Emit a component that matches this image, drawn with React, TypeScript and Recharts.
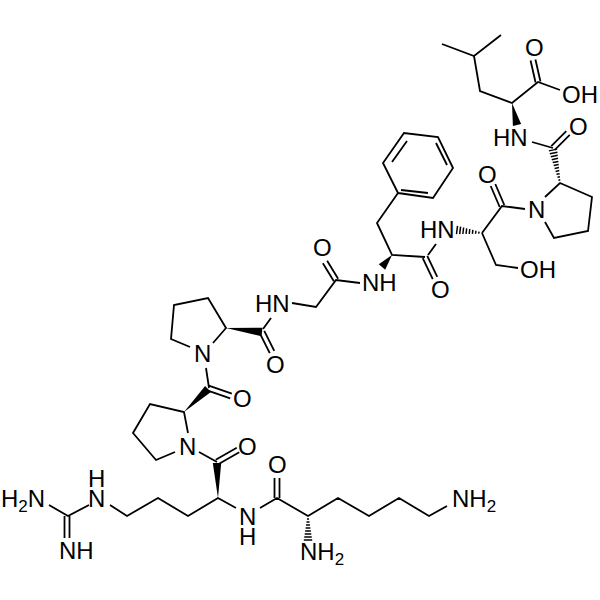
import React from 'react';
import { ScatterChart, Scatter, XAxis, YAxis } from 'recharts';

type Pair = [number, number];
type Atom = { x: number; y: number; text: string; sub?: string; after?: string; below?: string };

// single bonds, one polyline per stretch of skeleton
const skeleton: Pair[][] = [
  [[49, 505], [68, 516], [89, 505]],
  [[110, 505], [127, 516], [158, 498], [188, 516], [218, 498], [236, 508]],
  [[260, 508], [277, 498], [308, 516], [338, 498], [369, 516], [399, 498], [429, 516], [447, 506]],
  [[199, 452], [217, 462]],
  [[175, 452], [156, 460], [133, 433], [150, 404], [184, 412], [188, 433]],
  [[206, 368], [209, 388]],
  [[190, 347], [171, 339], [174, 305], [208, 298], [226, 328], [213, 343]],
  [[263, 329], [271, 318]],
  [[292, 303], [316, 307], [336, 280], [360, 283]],
  [[398, 193], [377, 223], [392, 255], [425, 257]],
  [[398, 193], [383, 163], [404, 133], [438, 137], [453, 168], [433, 198], [398, 193]],
  [[401, 190], [428, 193]],
  [[392, 162], [407, 141]],
  [[436, 143], [447, 165]],
  [[428, 255], [436, 244]],
  [[482, 233], [502, 206], [525, 209]],
  [[482, 233], [496, 265], [518, 268]],
  [[545, 197], [560, 183], [592, 197], [588, 231], [554, 238], [545, 222]],
  [[442, 44], [474, 56], [501, 35]],
  [[474, 56], [480, 91], [512, 103], [538, 82], [560, 90]],
  [[532, 142], [553, 148]],
];

const doubleBonds: Pair[][] = [
  [[67, 516], [67, 538]],
  [[277, 498], [277, 478]],
  [[217, 462], [238, 450]],
  [[208, 388], [231, 396]],
  [[262, 332], [272, 352]],
  [[336, 280], [325, 262]],
  [[425, 257], [435, 278]],
  [[502, 206], [493, 185]],
  [[553, 148], [568, 133]],
  [[538, 82], [533, 60]],
];

// tip first, broad end second
const wedgeBonds: Pair[][] = [
  [[218, 498], [217, 463]],
  [[184, 412], [208, 389]],
  [[226, 328], [262, 332]],
  [[392, 255], [382, 267]],
  [[512, 103], [517, 125]],
];

const hashBonds: Pair[][] = [
  [[308, 516], [308, 540]],
  [[482, 233], [457, 230]],
  [[560, 183], [553, 150]],
];

const atoms: Atom[] = [
  { x: 1, y: 507, text: 'H', sub: '2', after: 'N' },
  { x: 88, y: 487, text: 'H', below: 'N' },
  { x: 59, y: 559, text: 'NH' },
  { x: 239, y: 525, text: 'N', below: 'H' },
  { x: 268, y: 473, text: 'O' },
  { x: 238, y: 455, text: 'O' },
  { x: 179, y: 455, text: 'N' },
  { x: 300, y: 560, text: 'NH', sub: '2' },
  { x: 452, y: 507, text: 'NH', sub: '2' },
  { x: 194, y: 362, text: 'N' },
  { x: 233, y: 407, text: 'O' },
  { x: 255, y: 312, text: 'HN' },
  { x: 266, y: 373, text: 'O' },
  { x: 313, y: 256, text: 'O' },
  { x: 362, y: 291, text: 'NH' },
  { x: 420, y: 238, text: 'HN' },
  { x: 431, y: 298, text: 'O' },
  { x: 478, y: 183, text: 'O' },
  { x: 528, y: 218, text: 'N' },
  { x: 520, y: 278, text: 'OH' },
  { x: 525, y: 56, text: 'O' },
  { x: 562, y: 103, text: 'OH' },
  { x: 493, y: 146, text: 'HN' },
  { x: 569, y: 135, text: 'O' },
];

const toPoints = (pairs: Pair[]) => pairs.map(([x, y]) => ({ x, y }));
const noDot = () => <g />;
const BOND = 1.8;

// bond direction and its normal, worked out from the points the scales give back
const frame = (points: any[]) => {
  const [a, b] = points;
  const dx = b.x - a.x;
  const dy = b.y - a.y;
  const len = Math.hypot(dx, dy);
  return { a, b, dx, dy, len, nx: -dy / len, ny: dx / len };
};

const drawDouble = (props: any) => {
  const { a, b, nx, ny } = frame(props.points);
  return (
    <g stroke="#000" strokeWidth={BOND}>
      {[-2.5, 2.5].map((o) => (
        <line key={o} x1={a.x + nx * o} y1={a.y + ny * o} x2={b.x + nx * o} y2={b.y + ny * o} />
      ))}
    </g>
  );
};

const drawWedge = (props: any) => {
  const { a, b, nx, ny } = frame(props.points);
  const w = 4.2;
  return (
    <polygon
      fill="#000"
      points={`${a.x},${a.y} ${b.x + nx * w},${b.y + ny * w} ${b.x - nx * w},${b.y - ny * w}`}
    />
  );
};

const drawHash = (props: any) => {
  const { a, dx, dy, len, nx, ny } = frame(props.points);
  const count = Math.round(len / 3);
  return (
    <g stroke="#000" strokeWidth={1.5}>
      {Array.from({ length: count }, (_, i) => {
        const t = (i + 1) / count;
        const w = 0.6 + t * 3.6;
        const mx = a.x + dx * t;
        const my = a.y + dy * t;
        return <line key={i} x1={mx + nx * w} y1={my + ny * w} x2={mx - nx * w} y2={my - ny * w} />;
      })}
    </g>
  );
};

const AtomLabel = (props: any) => {
  const { text, sub, after, below } = props.payload;
  return (
    <text x={props.cx} y={props.cy} fontFamily="Liberation Sans" fontSize={24} fill="#000">
      {text}
      {sub && (
        <tspan fontSize={17} dy={5}>
          {sub}
        </tspan>
      )}
      {sub && after && <tspan dy={-5}>{after}</tspan>}
      {below && (
        <tspan x={props.cx} dy={20}>
          {below}
        </tspan>
      )}
    </text>
  );
};

export default function App() {
  return (
    <div style={{ position: 'absolute', left: 0, top: 0, width: 600, height: 600, background: '#fff' }}>
      <ScatterChart width={600} height={600} margin={{ top: 0, right: 0, bottom: 0, left: 0 }}>
        <XAxis type="number" dataKey="x" domain={[0, 600]} hide />
        <YAxis type="number" dataKey="y" domain={[0, 600]} reversed hide />
        {skeleton.map((pairs, i) => (
          <Scatter
            key={`s${i}`}
            data={toPoints(pairs)}
            line={{ stroke: '#000', strokeWidth: BOND }}
            shape={noDot}
            isAnimationActive={false}
          />
        ))}
        {doubleBonds.map((pairs, i) => (
          <Scatter key={`d${i}`} data={toPoints(pairs)} line={drawDouble} shape={noDot} isAnimationActive={false} />
        ))}
        {wedgeBonds.map((pairs, i) => (
          <Scatter key={`w${i}`} data={toPoints(pairs)} line={drawWedge} shape={noDot} isAnimationActive={false} />
        ))}
        {hashBonds.map((pairs, i) => (
          <Scatter key={`h${i}`} data={toPoints(pairs)} line={drawHash} shape={noDot} isAnimationActive={false} />
        ))}
        <Scatter data={atoms} shape={AtomLabel} isAnimationActive={false} />
      </ScatterChart>
    </div>
  );
}
